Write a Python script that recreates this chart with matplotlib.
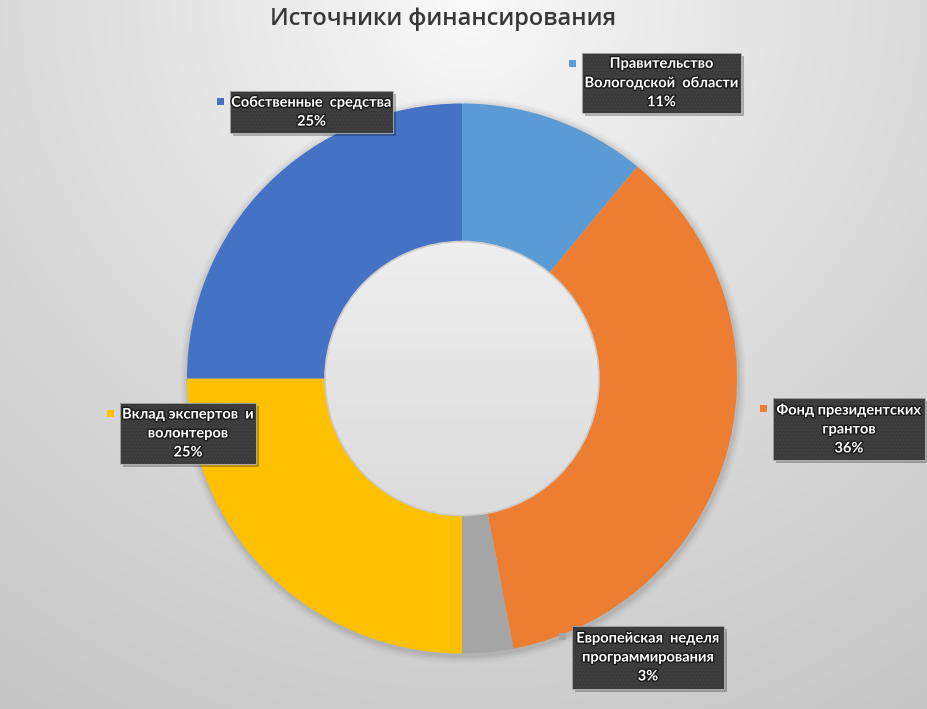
import matplotlib.pyplot as plt
import matplotlib.patheffects as pe
from matplotlib.patches import Rectangle, Circle
import numpy as np

# data
labels = ["Правительство\nВологодской  области",
          "Фонд президентских\nгрантов",
          "Европейская  неделя\nпрограммирования",
          "Вклад экспертов  и\nволонтеров",
          "Собственные  средства"]
shares = [11, 36, 3, 25, 25]
colors = ["#5B9BD5", "#ED7D31", "#A5A5A5", "#FFC000", "#4472C4"]

# label box layout in pixels (left, top, right, bottom)
boxes = [(582, 53, 741, 113),
         (773, 398, 925, 460),
         (572, 626, 724, 689),
         (120, 403, 256, 464),
         (230, 91, 393, 133)]

W, H = 928, 709
plt.rcParams['font.family'] = ['Lato', 'DejaVu Sans']


def py(y):
    return H - y


fig = plt.figure(figsize=(W / 100, H / 100), dpi=100)
ax = fig.add_axes([0, 0, 1, 1])
ax.set_xlim(0, W)
ax.set_ylim(0, H)
ax.axis('off')

# background gradient
xx, yy = np.meshgrid(np.arange(W), np.arange(H))
d = np.hypot(xx - 470, yy - 0) / 851.0
bg = 0.985 - 0.21 * d ** 0.8
ax.imshow(np.dstack([bg, bg, bg]), extent=(0, W, 0, H), origin='upper', zorder=0)

cx, cy = 462, py(378.5)
R, r_in = 275, 137

# soft shadow around the ring
for i, a in enumerate([0.05, 0.04, 0.03, 0.02]):
    ax.add_patch(Circle((cx + 1, cy - 2), R + 2 + 2 * i, color='black', alpha=a, lw=0, zorder=1))

wedges, _ = ax.pie(shares, colors=colors, startangle=90, counterclock=False,
                   radius=R, center=(cx, cy),
                   wedgeprops=dict(width=R - r_in, edgecolor='none'), frame=True)
for w in wedges:
    w.set_zorder(2)
ax.set_xlim(0, W)
ax.set_ylim(0, H)
ax.set_aspect('equal')
ax.axis('off')

# hole with a light vertical gradient
hole = Circle((cx, cy), r_in, transform=ax.transData)
g = np.linspace(0.935, 0.86, 200)[:, None] * np.ones((1, 2))
im = ax.imshow(np.dstack([g, g, g]), extent=(cx - r_in, cx + r_in, cy - r_in, cy + r_in),
               origin='upper', zorder=3)
im.set_clip_path(hole)
ax.add_patch(Circle((cx, cy), r_in, fill=False, ec='#cacaca', lw=1.2, zorder=4))

# title
ax.text(443, py(19), "Источники финансирования", fontsize=17, color='#383838',
        family=['Open Sans', 'DejaVu Sans'], fontweight='semibold',
        ha='center', va='center', zorder=6)

# labels
for lab, s, col, (x0, y0, x1, y1) in zip(labels, shares, colors, boxes):
    bw, bh = x1 - x0, y1 - y0
    ax.add_patch(Rectangle((x0 + 3, py(y1) - 3), bw, bh, fc='black', alpha=0.25, lw=0, zorder=5))
    ax.add_patch(Rectangle((x0, py(y1)), bw, bh, fc='#3a3a3a', lw=0, zorder=5))
    ax.add_patch(Rectangle((x0, py(y1)), bw, bh, fc='none', ec='#434343', hatch='.....',
                           lw=0, zorder=5))
    ax.add_patch(Rectangle((x0, py(y1)), bw, bh, fill=False, ec='#b0b0b0', lw=0.6, zorder=5))
    ax.add_patch(Rectangle((x0 - 13, py(y0 + 14)), 7, 7, fc=col, lw=0, zorder=5))
    t = ax.text((x0 + x1) / 2, py((y0 + y1) / 2), f"{lab}\n{s}%", fontsize=10.5,
                fontweight='bold', color='white', ha='center', va='center',
                multialignment='center', linespacing=1.45, zorder=6)
    t.set_path_effects([pe.withStroke(linewidth=2, foreground='#1a1a1a')])

fig.savefig("out.png", dpi=100)
